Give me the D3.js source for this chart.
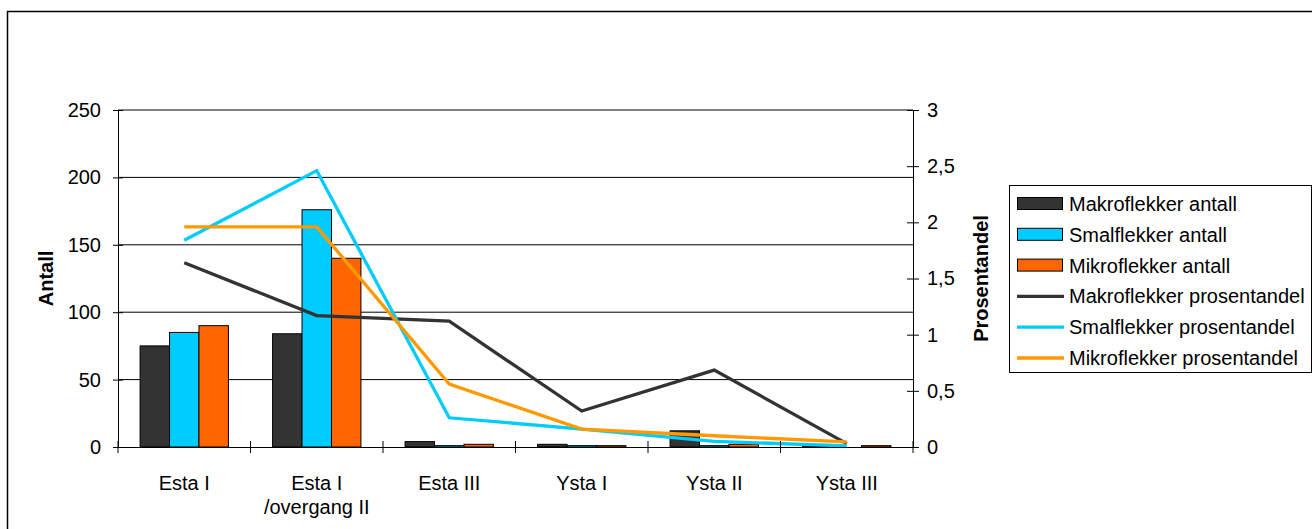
<!DOCTYPE html>
<html>
<head>
<meta charset="utf-8">
<script src="https://cdn.jsdelivr.net/npm/d3@7/dist/d3.min.js"></script>
<style>
  html, body { margin: 0; padding: 0; background: #fff; }
  svg { display: block; }
  text { font-family: "Liberation Sans", Arial, sans-serif; fill: #000; }
</style>
</head>
<body>
<svg id="chart" width="1312" height="529"></svg>
<script>
// Categories (second line after "\n")
const categories = ["Esta I", "Esta I\n/overgang II", "Esta III", "Ysta I", "Ysta II", "Ysta III"];

// Counts (left axis)
const makroAntall = [75, 84, 4, 2, 12, 0.5];
const smalAntall  = [85, 176, 1, 1, 1, 0];
const mikroAntall = [90, 140, 2, 1, 2, 1];

// Percentages (right axis)
const makroProsent = [1.64, 1.17, 1.12, 0.32, 0.685, 0.03];
const smalProsent  = [1.84, 2.46, 0.26, 0.16, 0.05, 0.01];
const mikroProsent = [1.96, 1.96, 0.56, 0.16, 0.10, 0.045];

const leftTicks  = [0, 50, 100, 150, 200, 250];
const rightTicks = [0, 0.5, 1, 1.5, 2, 2.5, 3];

const barSeries = [
  { name: "Makroflekker antall", values: makroAntall, color: "#333333" },
  { name: "Smalflekker antall",  values: smalAntall,  color: "#00CCFF" },
  { name: "Mikroflekker antall", values: mikroAntall, color: "#FF6600" }
];
const lineSeries = [
  { name: "Makroflekker prosentandel", values: makroProsent, color: "#333333" },
  { name: "Smalflekker prosentandel",  values: smalProsent,  color: "#00CCFF" },
  { name: "Mikroflekker prosentandel", values: mikroProsent, color: "#FF9900" }
];

const svg = d3.select("#chart");
const plot = { left: 118, right: 913, top: 110, bottom: 447 };
const fontSize = 20;

// Outer chart frame
svg.append("rect")
  .attr("x", 7.5).attr("y", 11.5)
  .attr("width", 1320).attr("height", 540)
  .attr("fill", "#fff").attr("stroke", "#000").attr("stroke-width", 1.5);

const x = d3.scaleBand().domain(categories).range([plot.left, plot.right]).padding(0);
// 150% gap width between groups
const groupWidth = x.bandwidth() * 3 / 4.5;
const xInner = d3.scaleBand().domain(barSeries.map(s => s.name)).range([0, groupWidth]).padding(0);
const yLeft  = d3.scaleLinear().domain([0, 250]).range([plot.bottom, plot.top]);
const yRight = d3.scaleLinear().domain([0, 3]).range([plot.bottom, plot.top]);

// Horizontal gridlines
svg.append("g").selectAll("line")
  .data(leftTicks.filter(t => t > 0))
  .join("line")
  .attr("x1", plot.left).attr("x2", plot.right)
  .attr("y1", d => yLeft(d)).attr("y2", d => yLeft(d))
  .attr("stroke", "#000").attr("stroke-width", 1);

// Grouped bars
const groups = svg.append("g").selectAll("g")
  .data(categories)
  .join("g")
  .attr("transform", d => `translate(${x(d) + (x.bandwidth() - groupWidth) / 2},0)`);

groups.selectAll("rect")
  .data((c, i) => barSeries.map(s => ({ s, v: s.values[i] })))
  .join("rect")
  .attr("x", d => xInner(d.s.name))
  .attr("width", xInner.bandwidth())
  .attr("y", d => yLeft(d.v))
  .attr("height", d => yLeft(0) - yLeft(d.v))
  .attr("fill", d => d.s.color)
  .attr("stroke", "#000").attr("stroke-width", 1);

// Percentage lines
const line = d3.line()
  .x((d, i) => x(categories[i]) + x.bandwidth() / 2)
  .y(d => yRight(d));

svg.append("g").selectAll("path")
  .data(lineSeries)
  .join("path")
  .attr("d", d => line(d.values))
  .attr("fill", "none")
  .attr("stroke", d => d.color)
  .attr("stroke-width", 3.3)
  .attr("stroke-linejoin", "miter");

// Axes
function styleAxis(g) {
  g.select(".domain").attr("stroke", "#000").attr("stroke-width", 1);
  g.selectAll(".tick line").attr("stroke", "#000");
  g.selectAll(".tick text").style("font-size", fontSize + "px").attr("fill", "#000");
}

const axLeft = svg.append("g")
  .attr("transform", `translate(${plot.left},0)`)
  .call(d3.axisLeft(yLeft).tickValues(leftTicks).tickSizeOuter(0).tickSizeInner(5).tickPadding(12))
  .call(styleAxis);
axLeft.selectAll(".tick line").attr("x1", 5);

const axRight = svg.append("g")
  .attr("transform", `translate(${plot.right},0)`)
  .call(d3.axisRight(yRight).tickValues(rightTicks).tickSizeOuter(0).tickSizeInner(6).tickPadding(8)
    .tickFormat(d => String(d).replace(".", ",")))
  .call(styleAxis);
axRight.selectAll(".tick line").attr("x1", -6);

const axBottom = svg.append("g")
  .attr("transform", `translate(0,${plot.bottom})`)
  .call(d3.axisBottom(x).tickSize(0).tickFormat(""))
  .call(styleAxis);
axBottom.selectAll(".tick").remove();

// Category separators on the x axis
const bounds = categories.map(c => x(c)).concat([plot.right]);
axBottom.append("g").selectAll("line")
  .data(bounds)
  .join("line")
  .attr("x1", d => d).attr("x2", d => d)
  .attr("y1", -6).attr("y2", 6)
  .attr("stroke", "#000");

// Category labels
const catLabels = svg.append("g").selectAll("text")
  .data(categories)
  .join("text")
  .attr("text-anchor", "middle")
  .style("font-size", fontSize + "px")
  .attr("x", d => x(d) + x.bandwidth() / 2)
  .attr("y", 490);
catLabels.selectAll("tspan")
  .data(d => d.split("\n"))
  .join("tspan")
  .attr("x", function () { return d3.select(this.parentNode).attr("x"); })
  .attr("dy", (d, i) => i === 0 ? 0 : 24)
  .text(d => d);

// Axis titles
svg.append("text")
  .attr("transform", `translate(53,${(plot.top + plot.bottom) / 2}) rotate(-90)`)
  .attr("text-anchor", "middle")
  .style("font-size", fontSize + "px").style("font-weight", "bold")
  .text("Antall");

svg.append("text")
  .attr("transform", `translate(988,${(plot.top + plot.bottom) / 2}) rotate(-90)`)
  .attr("text-anchor", "middle")
  .style("font-size", fontSize + "px").style("font-weight", "bold")
  .text("Prosentandel");

// Legend
const legend = svg.append("g");
legend.append("rect")
  .attr("x", 1009.5).attr("y", 185.5)
  .attr("width", 302).attr("height", 187)
  .attr("fill", "#fff").attr("stroke", "#000").attr("stroke-width", 1);

const legendItems = barSeries.map(s => ({ ...s, type: "bar" }))
  .concat(lineSeries.map(s => ({ ...s, type: "line" })));
const rowY = d3.scalePoint().domain(legendItems.map(d => d.name)).range([204, 358]);

const items = legend.selectAll("g.item")
  .data(legendItems)
  .join("g")
  .attr("class", "item")
  .attr("transform", d => `translate(0,${rowY(d.name)})`);

items.filter(d => d.type === "bar").append("rect")
  .attr("x", 1017.5).attr("y", -6.5)
  .attr("width", 45).attr("height", 12)
  .attr("fill", d => d.color).attr("stroke", "#000").attr("stroke-width", 1);

items.filter(d => d.type === "line").append("line")
  .attr("x1", 1017).attr("x2", 1064)
  .attr("y1", 0).attr("y2", 0)
  .attr("stroke", d => d.color).attr("stroke-width", 3.3);

items.append("text")
  .attr("x", 1069).attr("y", 7)
  .style("font-size", fontSize + "px")
  .text(d => d.name);
</script>
</body>
</html>
